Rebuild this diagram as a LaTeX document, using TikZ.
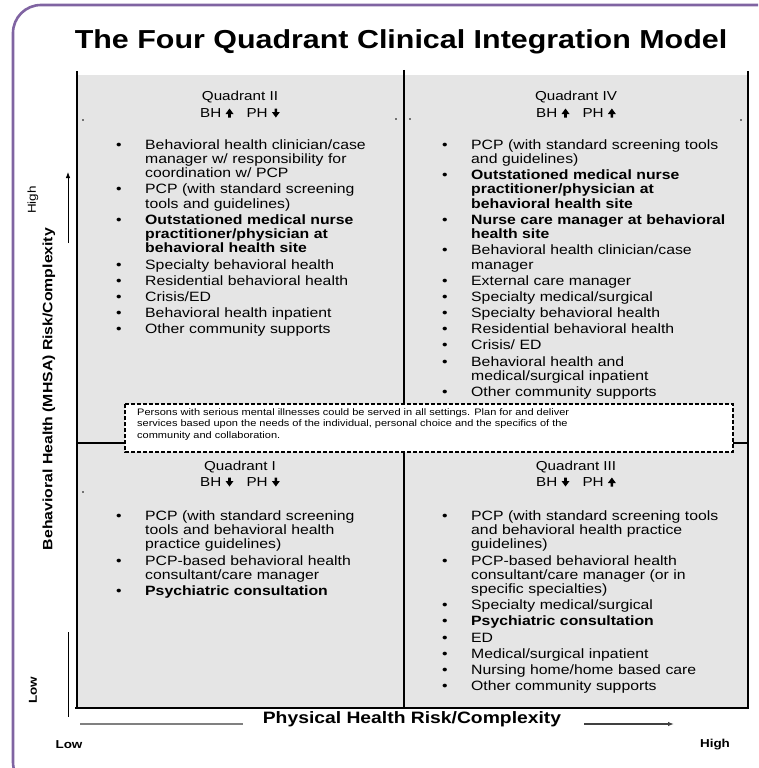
\documentclass[tikz,border=0pt]{standalone}
\usepackage{fontspec}
\setmainfont{Liberation Sans}[FakeStretch=1.17]
\usepackage{xcolor}
\usepackage{tikz}
\usetikzlibrary{arrows.meta, calc}
\definecolor{framepurple}{RGB}{128,100,162}
\definecolor{quadgray}{RGB}{229,229,229}

% small filled arrows for BH / PH
\newcommand{\uparr}{\tikz[baseline=0pt]\fill (-1.3pt,0pt) rectangle (1.3pt,4pt) (-4pt,3.5pt) -- (0pt,9pt) -- (4pt,3.5pt) -- cycle;}
\newcommand{\downarr}{\tikz[baseline=0pt]\fill (-1.3pt,9pt) rectangle (1.3pt,5pt) (-4pt,5.5pt) -- (0pt,0pt) -- (4pt,5.5pt) -- cycle;}
\newcommand{\qitem}[1]{\par\hangindent=29pt\hangafter=1\noindent\makebox[29pt][l]{\textbullet}#1}

\tikzset{
  quadhead/.style={align=center, inner sep=0pt, font=\fontsize{13}{15.5}\selectfont},
  quadlist/.style={anchor=north west, inner sep=0pt, text width=300pt,
    font=\fontsize{13.5}{14.2}\selectfont\setlength{\parskip}{2pt}},
  axislabel/.style={font=\bfseries\fontsize{13.5}{15}\selectfont, inner sep=0pt},
  endlabel/.style={font=\bfseries\fontsize{11.5}{13}\selectfont, inner sep=0pt},
  gridline/.style={line width=1.4pt, black}
}

\begin{document}
\begin{tikzpicture}[x=1pt, y=-1pt]
\useasboundingbox (0,0) rectangle (758,768);
\begin{scope}
  \clip (0,0) rectangle (758,768);
  \draw[framepurple, line width=2.6pt, rounded corners=28pt] (13,5) rectangle (800,790);
\end{scope}

\node[font=\bfseries\fontsize{26}{28}\selectfont, inner sep=0pt] (title) at (401,42)
  {The Four Quadrant Clinical Integration Model};

% quadrant field and dividers
\fill[quadgray] (77,75) rectangle (748,708);
\draw[gridline] (77,71) -- (77,709);
\draw[gridline] (748,71) -- (748,709);
\draw[gridline] (75,708) -- (749,708);
\draw[gridline] (404,70) -- (404,708);
\draw[gridline] (77,443) -- (748,443);

% corner dots
\foreach \p in {(83,120),(396,119),(410,119),(741,120),(83,492)}
  \fill \p circle (0.8pt);

% headers
\node[quadhead] (q2) at (240,97) {Quadrant II};
\node[quadhead] (q2bp) at (240,113) {BH \uparr\quad PH \downarr};
\node[quadhead] (q4) at (576,97) {Quadrant IV};
\node[quadhead] (q4bp) at (576,113) {BH \uparr\quad PH \uparr};
\node[quadhead] (q1) at (240,467) {Quadrant I};
\node[quadhead] (q1bp) at (240,482) {BH \downarr\quad PH \downarr};
\node[quadhead] (q3) at (576,467) {Quadrant III};
\node[quadhead] (q3bp) at (576,482) {BH \downarr\quad PH \uparr};

% lists
\node[quadlist] (list2) at (116,133) {%
  \qitem{Behavioral health clinician/case\newline manager w/ responsibility for\newline coordination w/ PCP}
  \qitem{PCP (with standard screening\newline tools and guidelines)}
  \qitem{\textbf{Outstationed medical nurse\newline practitioner/physician at\newline behavioral health site}}
  \qitem{Specialty behavioral health}
  \qitem{Residential behavioral health}
  \qitem{Crisis/ED}
  \qitem{Behavioral health inpatient}
  \qitem{Other community supports}};

\node[quadlist] (list4) at (442,133) {%
  \qitem{PCP (with standard screening tools\newline and guidelines)}
  \qitem{\textbf{Outstationed medical nurse\newline practitioner/physician at\newline behavioral health site}}
  \qitem{\textbf{Nurse care manager at behavioral\newline health site}}
  \qitem{Behavioral health clinician/case\newline manager}
  \qitem{External care manager}
  \qitem{Specialty medical/surgical}
  \qitem{Specialty behavioral health}
  \qitem{Residential behavioral health}
  \qitem{Crisis/ ED}
  \qitem{Behavioral health and\newline medical/surgical inpatient}
  \qitem{Other community supports}};

\node[quadlist] (list1) at (116,504) {%
  \qitem{PCP (with standard screening\newline tools and behavioral health\newline practice guidelines)}
  \qitem{PCP-based behavioral health\newline consultant/care manager}
  \qitem{\textbf{Psychiatric consultation}}};

\node[quadlist] (list3) at (442,504) {%
  \qitem{PCP (with standard screening tools\newline and behavioral health practice\newline guidelines)}
  \qitem{PCP-based behavioral health\newline consultant/care manager (or in\newline specific specialties)}
  \qitem{Specialty medical/surgical}
  \qitem{\textbf{Psychiatric consultation}}
  \qitem{ED}
  \qitem{Medical/surgical inpatient}
  \qitem{Nursing home/home based care}
  \qitem{Other community supports}};

% note across all four quadrants
\draw[black, fill=white, line width=1.1pt, dash pattern=on 4pt off 2pt] (125,404) rectangle (733,452);
\node[anchor=north west, inner sep=0pt, align=left, font=\fontsize{9.4}{11.5}\selectfont] (note) at (137,408)
  {Persons with serious mental illnesses could be served in all settings. Plan for and deliver\\
   services based upon the needs of the individual, personal choice and the specifics of the\\
   community and collaboration.};

% vertical axis
\node[axislabel, rotate=90] (ylab) at (49,389) {Behavioral Health (MHSA) Risk/Complexity};
\node[endlabel, font=\fontsize{11.5}{13}\selectfont, rotate=90] (yhigh) at (33,200) {High};
\node[endlabel, rotate=90] (ylow) at (33,690) {Low};
\coordinate (ya) at (68,243);
\coordinate (yb) at (68,172);
\draw[thick, -{Latex[length=6pt]}] (ya) -- (yb);
\coordinate (yc) at (68,632);
\coordinate (yd) at (68,717);
\draw[thick] (yc) -- (yd);

% horizontal axis
\node[axislabel, font=\bfseries\fontsize{16.5}{18}\selectfont] (xlab) at (412,719) {Physical Health Risk/Complexity};
\node[endlabel] (xlow) at (69,745) {Low};
\node[endlabel] (xhigh) at (715,745) {High};
\coordinate (xa) at (80,724);
\coordinate (xb) at (243,724);
\draw[gray, line width=1.6pt] (xa) -- (xb);
\coordinate (xc) at (584,724);
\coordinate (xd) at (674,724);
\draw[black!75, line width=1.6pt, -{Latex[length=6pt]}] (xc) -- (xd);
\end{tikzpicture}
\end{document}
